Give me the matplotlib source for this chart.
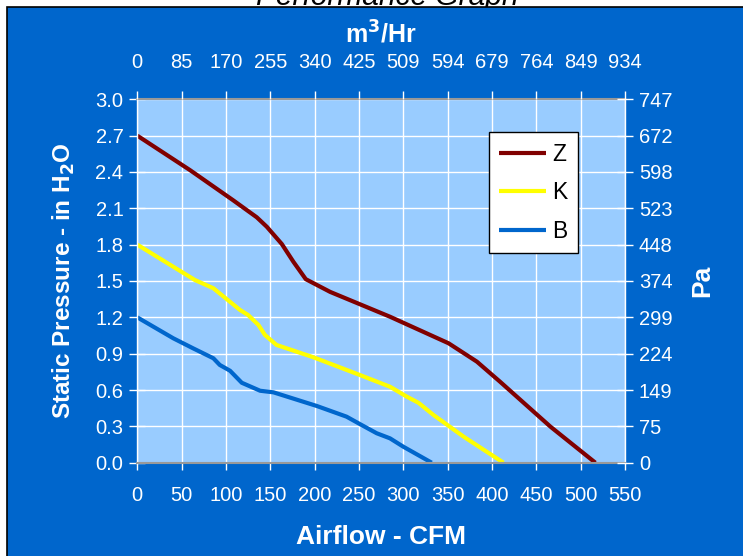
import matplotlib
matplotlib.use("Agg")
import matplotlib.pyplot as plt
from matplotlib.patches import Rectangle

plt.rcParams['font.family'] = ['Liberation Sans', 'DejaVu Sans']

# Fan curves (CFM, inches of water)
z_cfm = [0, 59.5, 108, 134.7, 146, 163, 176, 190, 217.5, 285, 351, 383, 409, 466, 516.6]
z_pressure = [2.70, 2.415, 2.167, 2.026, 1.948, 1.805, 1.659, 1.515, 1.41, 1.205, 0.986, 0.834, 0.669, 0.297, 0.0]

k_cfm = [0, 65, 85.8, 116, 125, 136.6, 144, 157, 198.7, 251, 285, 304, 317, 334, 368, 413]
k_pressure = [1.80, 1.508, 1.44, 1.26, 1.219, 1.137, 1.054, 0.972, 0.870, 0.724, 0.627, 0.545, 0.495, 0.394, 0.215, 0.0]

b_cfm = [0, 40.6, 63, 85.8, 93, 104.6, 117.8, 138.5, 153.5, 202.5, 236, 251, 270, 285, 300, 332]
b_pressure = [1.20, 1.027, 0.944, 0.862, 0.807, 0.759, 0.660, 0.594, 0.581, 0.468, 0.380, 0.319, 0.243, 0.201, 0.132, 0.0]

cfm_ticks = [0, 50, 100, 150, 200, 250, 300, 350, 400, 450, 500, 550]
inh2o_ticks = [0.0, 0.3, 0.6, 0.9, 1.2, 1.5, 1.8, 2.1, 2.4, 2.7, 3.0]
m3hr_labels = ['0', '85', '170', '255', '340', '425', '509', '594', '679', '764', '849', '934']
pa_labels = ['0', '75', '149', '224', '299', '374', '448', '523', '598', '672', '747']

bg_blue = '#0066CC'
plot_blue = '#99CCFF'

fig = plt.figure(figsize=(7.43, 5.56), dpi=100, facecolor='white')
W, H = 743, 556

# blue panel behind everything
fig.patches.append(Rectangle((7 / W, -0.01), 1.0, 1 - 7 / H + 0.01, transform=fig.transFigure,
                             facecolor=bg_blue, edgecolor='black', linewidth=1.2, zorder=-1))
fig.text(387 / W, 1 - 5 / H, 'Performance Graph', ha='center', va='baseline',
         fontsize=21.5, style='italic', color='black', zorder=-2)

left, right, bottom, top = 137.3 / W, 625 / W, 1 - 462.7 / H, 1 - 99.3 / H
ax = fig.add_axes([left, bottom, right - left, top - bottom])
ax.set_facecolor(plot_blue)

ax.plot(z_cfm, z_pressure, color='#800000', lw=3, label='Z', solid_capstyle='butt')
ax.plot(k_cfm, k_pressure, color='#FFFF00', lw=3, label='K', solid_capstyle='butt')
ax.plot(b_cfm, b_pressure, color=bg_blue, lw=3, label='B', solid_capstyle='butt')

ax.set_xlim(0, 550)
ax.set_ylim(0, 3.0)
ax.set_xticks(cfm_ticks)
ax.set_xticklabels([str(v) for v in cfm_ticks])
ax.set_yticks(inh2o_ticks)
ax.set_yticklabels(['%.1f' % v for v in inh2o_ticks])
ax.grid(True, color='white', lw=1.0)
ax.set_axisbelow(True)

ax.tick_params(axis='x', direction='out', length=5, width=1, colors='white',
               labelsize=14.5, pad=12)
ax.tick_params(axis='y', direction='inout', length=12, width=1, colors='white',
               labelsize=14.5, pad=4)
for s in ['top', 'bottom']:
    ax.spines[s].set_color('#999999')
    ax.spines[s].set_linewidth(1.5)
for s in ['left', 'right']:
    ax.spines[s].set_color('white')
    ax.spines[s].set_linewidth(1)

ax.set_xlabel('Airflow - CFM', fontsize=19, fontweight='bold', color='white', labelpad=14)
ax.set_ylabel('Static Pressure - in H$_\\mathbf{2}$O', fontsize=17.5, fontweight='bold',
              color='white', labelpad=13)

# right axis in Pa
axr = ax.twinx()
axr.set_ylim(0, 3.0)
axr.set_yticks(inh2o_ticks)
axr.set_yticklabels(pa_labels)
axr.tick_params(axis='y', direction='inout', length=12, width=1, colors='white',
                labelsize=14.5, pad=4)
axr.set_ylabel('Pa', fontsize=19, fontweight='bold', color='white', labelpad=13)
for s in axr.spines.values():
    s.set_visible(False)

# top axis in m3/Hr
axt = ax.twiny()
axt.set_xlim(0, 550)
axt.set_xticks(cfm_ticks)
axt.set_xticklabels(m3hr_labels)
axt.tick_params(axis='x', direction='out', length=6, width=1, colors='white',
                labelsize=14.5, pad=14)
axt.set_xlabel('m$^\\mathbf{3}$/Hr', fontsize=18, fontweight='bold', color='white', labelpad=7)
for s in axt.spines.values():
    s.set_visible(False)

leg = ax.legend(loc='upper left', bbox_to_anchor=((489 - 137.3) / 487.7, (462.7 - 132.3) / 363.4),
                borderaxespad=0, frameon=True, fancybox=False, fontsize=16.5,
                handlelength=2.05, handletextpad=0.25, labelspacing=0.68,
                borderpad=0.45, framealpha=1)
leg.get_frame().set_edgecolor('black')
leg.get_frame().set_linewidth(1)
for line in leg.get_lines():
    line.set_linewidth(3)

fig.savefig('out.png', dpi=100)
